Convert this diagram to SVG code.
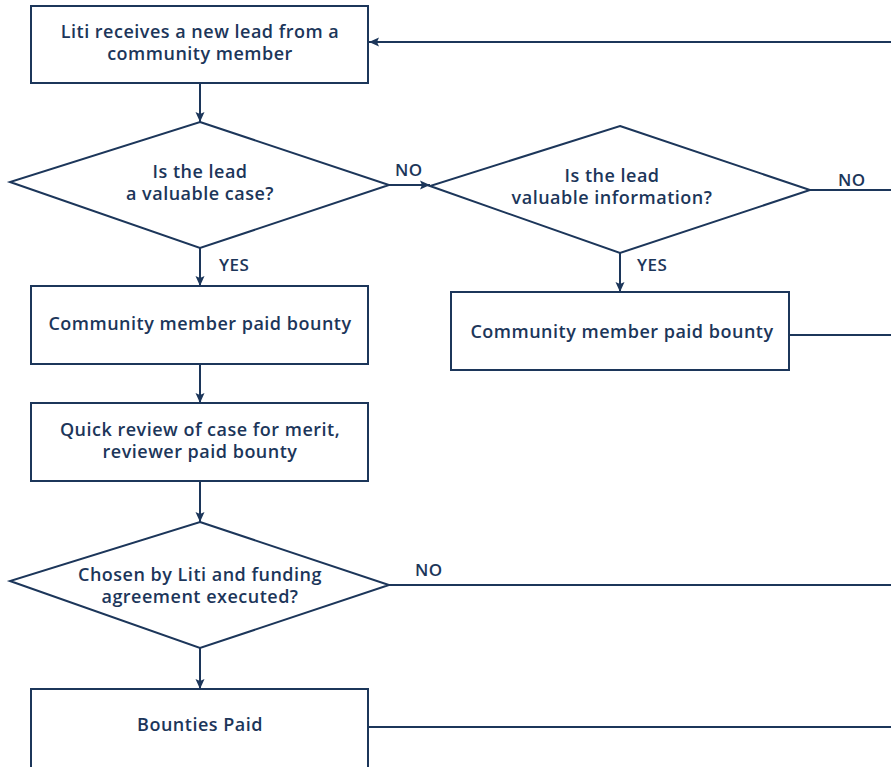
<svg xmlns="http://www.w3.org/2000/svg" width="891" height="767" viewBox="0 0 891 767">
<style>
.shape{fill:#fff;stroke:#1c365a;stroke-width:2}
.line{fill:none;stroke:#1c365a;stroke-width:2}
text{font-family:"Open Sans","Liberation Sans",sans-serif;font-weight:600;font-size:18px;letter-spacing:0.5px;fill:#1c365a;text-anchor:middle}
.lbl{text-anchor:start;font-size:17px}
</style>
<defs>
<marker id="arr" markerWidth="10" markerHeight="10" refX="10" refY="5" orient="auto" markerUnits="userSpaceOnUse">
<path d="M0,0.5 L10,5 L0,9.5 L2,5 Z" fill="#1c365a"/>
</marker>
</defs>
<rect width="891" height="767" fill="#fff"/>
<g id="connectors">
<line class="line" x1="891" y1="42" x2="369" y2="42" marker-end="url(#arr)"/>
<line class="line" x1="200" y1="83" x2="200" y2="122" marker-end="url(#arr)"/>
<line class="line" x1="389" y1="185" x2="430" y2="185" marker-end="url(#arr)"/>
<line class="line" x1="810" y1="190" x2="891" y2="190"/>
<line class="line" x1="200" y1="248" x2="200" y2="286" marker-end="url(#arr)"/>
<line class="line" x1="620" y1="253" x2="620" y2="292" marker-end="url(#arr)"/>
<line class="line" x1="789" y1="335" x2="891" y2="335"/>
<line class="line" x1="200" y1="364" x2="200" y2="403" marker-end="url(#arr)"/>
<line class="line" x1="200" y1="481" x2="200" y2="522" marker-end="url(#arr)"/>
<line class="line" x1="389" y1="585" x2="891" y2="585"/>
<line class="line" x1="200" y1="648" x2="200" y2="689" marker-end="url(#arr)"/>
<line class="line" x1="368" y1="727" x2="891" y2="727"/>
<text class="lbl" x="395" y="176">NO</text>
<text class="lbl" x="838" y="186">NO</text>
<text class="lbl" x="219" y="271">YES</text>
<text class="lbl" x="637" y="271">YES</text>
<text class="lbl" x="415" y="576">NO</text>
</g>
<g id="n1">
<rect class="shape" x="31" y="6" width="337" height="77"/>
<text x="200" y="38">Liti receives a new lead from a</text>
<text x="200" y="60">community member</text>
</g>
<g id="d1">
<polygon class="shape" points="200,122 389,185 200,248 10,182"/>
<text x="200" y="178">Is the lead</text>
<text x="200" y="200">a valuable case?</text>
</g>
<g id="d2">
<polygon class="shape" points="620,126 810,190 620,253 430,186"/>
<text x="612" y="182">Is the lead</text>
<text x="612" y="204">valuable information?</text>
</g>
<g id="n2">
<rect class="shape" x="31" y="286" width="337" height="78"/>
<text x="200" y="330">Community member paid bounty</text>
</g>
<g id="n4">
<rect class="shape" x="451" y="292" width="338" height="78"/>
<text x="622" y="338">Community member paid bounty</text>
</g>
<g id="n3">
<rect class="shape" x="31" y="403" width="337" height="78"/>
<text x="200" y="436">Quick review of case for merit,</text>
<text x="200" y="458">reviewer paid bounty</text>
</g>
<g id="d3">
<polygon class="shape" points="200,522 389,585 200,648 10,581"/>
<text x="200" y="581">Chosen by Liti and funding</text>
<text x="200" y="603">agreement executed?</text>
</g>
<g id="n5">
<rect class="shape" x="31" y="689" width="337" height="90"/>
<text x="200" y="731">Bounties Paid</text>
</g>
</svg>
